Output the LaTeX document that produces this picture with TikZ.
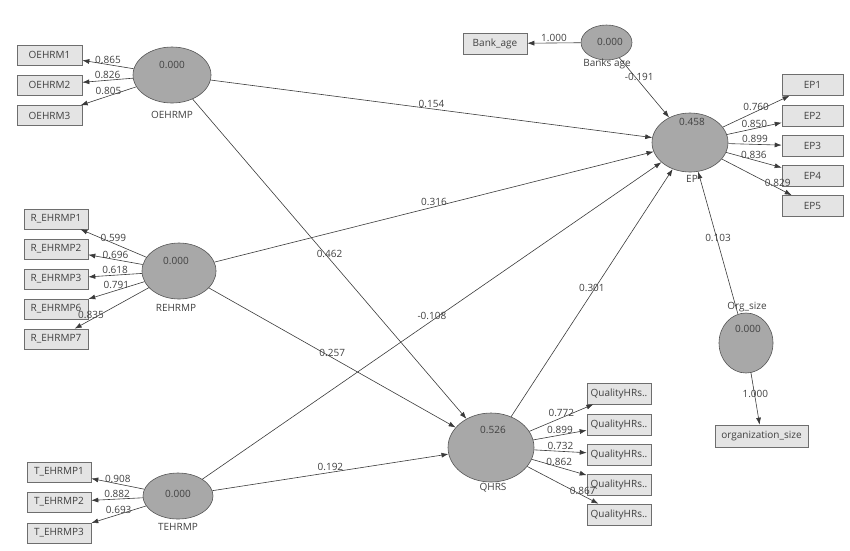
\documentclass[tikz,border=0pt]{standalone}
\usepackage{fontspec}
\setmainfont{Open Sans}
\usetikzlibrary{shapes.geometric,arrows.meta}
\definecolor{lvfill}{HTML}{A8A8A8}
\definecolor{lvedge}{HTML}{555555}
\definecolor{indfill}{HTML}{E4E4E4}
\definecolor{indedge}{HTML}{6E6E6E}
\definecolor{txt}{HTML}{404040}
\definecolor{linec}{HTML}{3A3A3A}
\tikzset{
  lv/.style={ellipse,draw=lvedge,fill=lvfill,inner sep=0pt,line width=0.6pt},
  ind/.style={rectangle,draw=indedge,fill=indfill,minimum width=64pt,minimum height=20pt,inner sep=0pt,text=txt,line width=0.6pt},
  conn/.style={draw=linec,line width=0.6pt,-{Latex[length=7pt,width=5pt]}},
  coef/.style={text=txt,inner sep=1pt,above},
  tag/.style={text=txt,inner sep=0pt}
}
\begin{document}
\begin{tikzpicture}[x=1pt,y=-1pt,font=\fontsize{10}{12}\selectfont]
\useasboundingbox (0,0) rectangle (850,550);

% latent variables
\node[lv,minimum width=78pt,minimum height=56pt](OEHRMP)at(172,75){};
\node[lv,minimum width=74pt,minimum height=56pt](REHRMP)at(179,271){};
\node[lv,minimum width=70pt,minimum height=46pt](TEHRMP)at(178,496){};
\node[lv,minimum width=76pt,minimum height=59pt](EP)at(690,142.5){};
\node[lv,minimum width=86pt,minimum height=69pt](QHRS)at(491,447.5){};
\node[lv,minimum width=51pt,minimum height=35pt](banks)at(606.5,42.5){};
\node[lv,minimum width=54pt,minimum height=60pt](org)at(746,343){};

% values and names
\node[tag](vOE)at(172,65){0.000};
\node[tag](nOE)at(172,115){OEHRMP};
\node[tag](vRE)at(176,261){0.000};
\node[tag](nRE)at(176,308){REHRMP};
\node[tag](vTE)at(178,494){0.000};
\node[tag](nTE)at(178,527){TEHRMP};
\node[tag](vEP)at(692,122){0.458};
\node[tag](nEP)at(692,179){EP};
\node[tag](vQ)at(493,430){0.526};
\node[tag](nQ)at(493,488){QHRS};
\node[tag](vB)at(610,42){0.000};
\node[tag](nB)at(607,64){Banks age};
\node[tag](vO)at(748,329){0.000};
\node[tag](nO)at(747,307){Org\_size};

% indicators
\foreach \i/\y in {1/55,2/85,3/115.5}
  \node[ind,minimum width=65pt](oe\i)at(49.5,\y){OEHRM\i};
\foreach \i/\y in {1/219,2/249,3/279,6/309,7/339}
  \node[ind](re\i)at(56,\y){R\_EHRMP\i};
\foreach \i/\y in {1/472,2/502,3/533}
  \node[ind](te\i)at(59,\y){T\_EHRMP\i};
\foreach \i/\y in {1/85,2/116,3/146,4/176,5/206}
  \node[ind,minimum width=61pt,minimum height=21pt](ep\i)at(812.5,\y){EP\i};
\foreach \i/\y in {1/393.5,2/424.5,3/454.5,4/484.5,5/514.5}
  \node[ind,minimum height=21pt](q\i)at(619,\y){QualityHRs..};
\node[ind,minimum height=21pt](bankage)at(495,43.5){Bank\_age};
\node[ind,minimum width=93pt,minimum height=22pt](orgsize)at(761.5,436){organization\_size};

% outer loadings
\foreach \i/\v in {1/0.865,2/0.826,3/0.805}
  \draw[conn](OEHRMP)--(oe\i) node[coef,pos=0.5]{\v};
\foreach \i/\v/\p in {1/0.599/0.5,2/0.696/0.5,3/0.618/0.5,6/0.791/0.5,7/0.835/0.78}
  \draw[conn](REHRMP)--(re\i) node[coef,pos=\p]{\v};
\foreach \i/\v in {1/0.908,2/0.882,3/0.693}
  \draw[conn](TEHRMP)--(te\i) node[coef,pos=0.5]{\v};
\foreach \i/\v/\p in {1/0.760/0.5,2/0.850/0.5,3/0.899/0.5,4/0.836/0.5,5/0.829/0.8}
  \draw[conn](EP)--(ep\i) node[coef,pos=\p]{\v};
\foreach \i/\v/\p in {1/0.772/0.5,2/0.899/0.5,3/0.732/0.5,4/0.862/0.5,5/0.867/0.78}
  \draw[conn](QHRS)--(q\i) node[coef,pos=\p]{\v};
\draw[conn](banks)--(bankage) node[coef,pos=0.5]{1.000};
\draw[conn](org)--(orgsize) node[coef,pos=0.5]{1.000};

% path coefficients
\draw[conn](OEHRMP)--(EP) node[coef,pos=0.5]{0.154};
\draw[conn](OEHRMP)--(QHRS) node[coef,pos=0.5]{0.462};
\draw[conn](REHRMP)--(EP) node[coef,pos=0.5]{0.316};
\draw[conn](REHRMP)--(QHRS) node[coef,pos=0.5]{0.257};
\draw[conn](TEHRMP)--(EP) node[coef,pos=0.5]{-0.108};
\draw[conn](TEHRMP)--(QHRS) node[coef,pos=0.5]{0.192};
\draw[conn](QHRS)--(EP) node[coef,pos=0.5]{0.301};
\draw[conn](banks)--(EP) node[coef,pos=0.4]{-0.191};
\draw[conn](org)--(EP) node[coef,pos=0.5]{0.103};
\end{tikzpicture}
\end{document}
